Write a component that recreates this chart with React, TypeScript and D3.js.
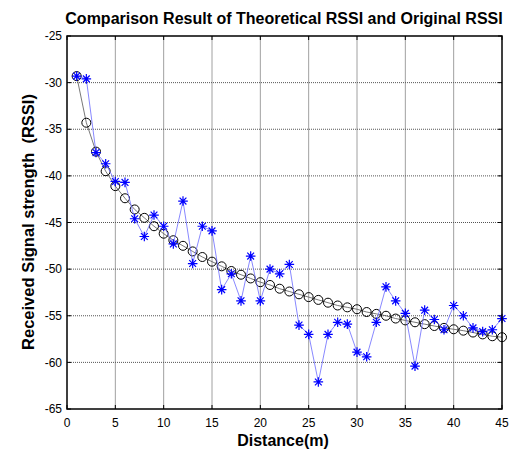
import React from "react";
import * as d3 from "d3";

const distances = [1,2,3,4,5,6,7,8,9,10,11,12,13,14,15,16,17,18,19,20,21,22,23,24,25,26,27,28,29,30,31,32,33,34,35,36,37,38,39,40,41,42,43,44,45];
const theoretical = [-29.3,-34.3,-37.4,-39.5,-41.1,-42.4,-43.6,-44.5,-45.4,-46.2,-46.9,-47.5,-48.1,-48.7,-49.2,-49.7,-50.2,-50.6,-51.0,-51.4,-51.7,-52.1,-52.4,-52.7,-53.0,-53.3,-53.6,-53.9,-54.1,-54.3,-54.6,-54.8,-55.0,-55.3,-55.5,-55.7,-55.9,-56.1,-56.3,-56.45,-56.6,-56.8,-57.0,-57.2,-57.3];
const original = [-29.3,-29.6,-37.5,-38.7,-40.6,-40.7,-44.6,-46.5,-44.2,-45.4,-47.3,-42.7,-49.4,-45.4,-45.9,-52.2,-50.5,-53.4,-48.6,-53.4,-50.0,-50.5,-49.5,-56.0,-57.0,-62.1,-57.0,-55.7,-55.9,-58.9,-59.4,-55.7,-51.9,-53.4,-54.75,-60.4,-54.4,-55.4,-56.5,-53.9,-55.0,-56.3,-56.7,-56.5,-55.3];
const xTicks = [0,5,10,15,20,25,30,35,40,45];
const yTicks = [-65,-60,-55,-50,-45,-40,-35,-30,-25];

const titleText = "Comparison Result of Theoretical RSSI and Original RSSI";
const xLabel = "Distance(m)";
const yLabel = "Received Signal strength  (RSSI)";

export default function App() {
  const W = 513, H = 452;
  const L = 67, R = 502, T = 36, B = 409;
  const x = d3.scaleLinear().domain([0, 45]).range([L, R]);
  const y = d3.scaleLinear().domain([-65, -25]).range([B, T]);
  const font = "Arial, 'Liberation Sans', sans-serif";

  const lineGen = d3.line<[number, number]>().x(d => x(d[0])).y(d => y(d[1]));
  const theoPts: [number, number][] = distances.map((d, i) => [d, theoretical[i]]);
  const origPts: [number, number][] = distances.map((d, i) => [d, original[i]]);

  const star = (cx: number, cy: number) => {
    const a = 4.8, b = 3.4;
    return `M${cx - a},${cy}L${cx + a},${cy}M${cx},${cy - a}L${cx},${cy + a}M${cx - b},${cy - b}L${cx + b},${cy + b}M${cx - b},${cy + b}L${cx + b},${cy - b}`;
  };

  return (
    <svg width={W} height={H} style={{ position: "absolute", left: 0, top: 0, background: "#fff" }}>
      <rect x={0} y={0} width={W} height={H} fill="#fff" />
      {xTicks.slice(1, -1).map(t => (
        <line key={"gx" + t} x1={x(t)} x2={x(t)} y1={T} y2={B} stroke="#a0a0a0" strokeWidth={1} />
      ))}
      {yTicks.slice(1, -1).map(t => (
        <line key={"gy" + t} x1={L} x2={R} y1={y(t)} y2={y(t)} stroke="#555" strokeWidth={1} strokeDasharray="1,1" />
      ))}
      {xTicks.map(t => (
        <g key={"tx" + t}>
          <line x1={x(t)} x2={x(t)} y1={B} y2={B - 4} stroke="#000" />
          <line x1={x(t)} x2={x(t)} y1={T} y2={T + 4} stroke="#000" />
          <text x={x(t)} y={427} textAnchor="middle" fontFamily={font} fontSize={12} fill="#000">{t}</text>
        </g>
      ))}
      {yTicks.map(t => (
        <g key={"ty" + t}>
          <line x1={L} x2={L + 4} y1={y(t)} y2={y(t)} stroke="#000" />
          <line x1={R} x2={R - 4} y1={y(t)} y2={y(t)} stroke="#000" />
          <text x={62} y={y(t)} dy="0.35em" textAnchor="end" fontFamily={font} fontSize={12} fill="#000">{t}</text>
        </g>
      ))}
      <path d={lineGen(theoPts) || ""} fill="none" stroke="#555" strokeWidth={0.8} />
      {theoPts.map((p, i) => (
        <circle key={"c" + i} cx={x(p[0])} cy={y(p[1])} r={4.5} fill="none" stroke="#000" strokeWidth={1} />
      ))}
      <path d={lineGen(origPts) || ""} fill="none" stroke="#6a6aff" strokeWidth={0.8} />
      {origPts.map((p, i) => (
        <path key={"s" + i} d={star(x(p[0]), y(p[1]))} fill="none" stroke="#0000ff" strokeWidth={1.2} />
      ))}
      <rect x={L} y={T} width={R - L} height={B - T} fill="none" stroke="#000" strokeWidth={1.5} />
      <text x={284} y={24} textAnchor="middle" fontFamily={font} fontSize={16} fontWeight="bold" fill="#000">{titleText}</text>
      <text x={283} y={446} textAnchor="middle" fontFamily={font} fontSize={16} fontWeight="bold" fill="#000">{xLabel}</text>
      <text transform="translate(28,222) rotate(-90)" dy="0.35em" textAnchor="middle" fontFamily={font} fontSize={16.5} fontWeight="bold" fill="#000" style={{ whiteSpace: "pre" }}>{yLabel}</text>
    </svg>
  );
}
